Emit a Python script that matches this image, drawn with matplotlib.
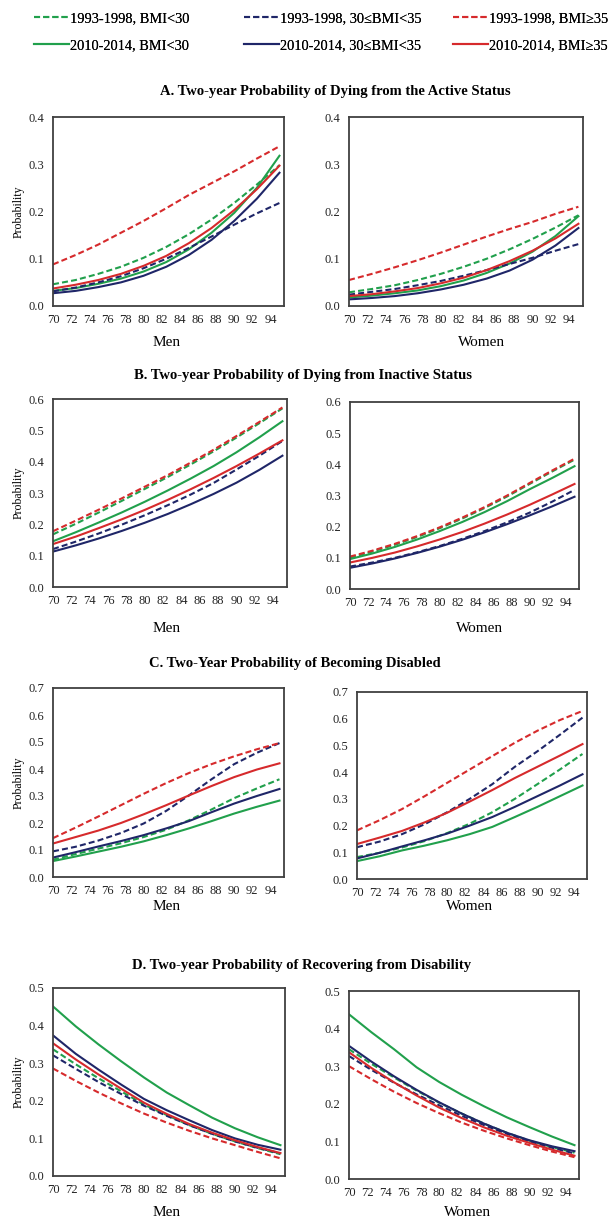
import matplotlib
matplotlib.use("Agg")
import matplotlib.pyplot as plt
from matplotlib.lines import Line2D

plt.rcParams['font.family'] = ['Liberation Serif', 'DejaVu Serif']

ages = [70, 72.5, 75, 77.5, 80, 82.5, 85, 87.5, 90, 92.5, 95]
xtick_labels = [70, 72, 74, 76, 78, 80, 82, 84, 86, 88, 90, 92, 94]

series_labels = ["1993-1998, BMI<30", "2010-2014, BMI<30",
                 "1993-1998, 30\u2264BMI<35", "2010-2014, 30\u2264BMI<35",
                 "1993-1998, BMI\u226535", "2010-2014, BMI\u226535"]

# Panel A: dying from active status
a_men_g93 = [0.046, 0.055, 0.068, 0.083, 0.102, 0.125, 0.152, 0.183, 0.218, 0.257, 0.298]
a_men_g10 = [0.032, 0.038, 0.047, 0.058, 0.073, 0.093, 0.120, 0.155, 0.197, 0.250, 0.318]
a_men_n93 = [0.031, 0.039, 0.050, 0.063, 0.080, 0.100, 0.123, 0.147, 0.172, 0.196, 0.218]
a_men_n10 = [0.027, 0.032, 0.040, 0.050, 0.064, 0.083, 0.108, 0.140, 0.180, 0.227, 0.282]
a_men_r93 = [0.088, 0.108, 0.130, 0.155, 0.180, 0.207, 0.235, 0.260, 0.285, 0.312, 0.338]
a_men_r10 = [0.037, 0.045, 0.055, 0.068, 0.085, 0.106, 0.133, 0.165, 0.203, 0.247, 0.297]
a_wom_g93 = [0.029, 0.036, 0.044, 0.055, 0.068, 0.083, 0.100, 0.120, 0.142, 0.166, 0.192]
a_wom_g10 = [0.018, 0.022, 0.027, 0.033, 0.042, 0.054, 0.070, 0.090, 0.115, 0.148, 0.190]
a_wom_n93 = [0.024, 0.030, 0.036, 0.044, 0.053, 0.064, 0.076, 0.089, 0.102, 0.117, 0.131]
a_wom_n10 = [0.014, 0.017, 0.021, 0.027, 0.035, 0.045, 0.058, 0.075, 0.098, 0.128, 0.165]
a_wom_r93 = [0.055, 0.068, 0.082, 0.097, 0.113, 0.130, 0.147, 0.163, 0.178, 0.195, 0.210]
a_wom_r10 = [0.021, 0.025, 0.031, 0.038, 0.048, 0.060, 0.076, 0.095, 0.117, 0.143, 0.174]

# Panel B: dying from inactive status
b_men_g93 = [0.168, 0.202, 0.238, 0.275, 0.313, 0.351, 0.391, 0.433, 0.477, 0.523, 0.570]
b_men_g10 = [0.146, 0.175, 0.206, 0.238, 0.272, 0.308, 0.346, 0.386, 0.430, 0.478, 0.529]
b_men_n93 = [0.121, 0.145, 0.171, 0.199, 0.229, 0.261, 0.295, 0.332, 0.375, 0.419, 0.466]
b_men_n10 = [0.113, 0.133, 0.155, 0.179, 0.205, 0.233, 0.264, 0.297, 0.333, 0.374, 0.419]
b_men_r93 = [0.178, 0.212, 0.247, 0.283, 0.320, 0.357, 0.397, 0.438, 0.482, 0.527, 0.573]
b_men_r10 = [0.137, 0.161, 0.188, 0.216, 0.246, 0.278, 0.312, 0.348, 0.386, 0.426, 0.468]
b_wom_g93 = [0.100, 0.120, 0.142, 0.167, 0.195, 0.226, 0.260, 0.297, 0.337, 0.377, 0.415]
b_wom_g10 = [0.096, 0.114, 0.135, 0.159, 0.186, 0.215, 0.247, 0.282, 0.320, 0.356, 0.394]
b_wom_n93 = [0.072, 0.085, 0.100, 0.118, 0.138, 0.161, 0.186, 0.214, 0.245, 0.280, 0.318]
b_wom_n10 = [0.068, 0.082, 0.098, 0.116, 0.136, 0.158, 0.182, 0.208, 0.236, 0.265, 0.296]
b_wom_r93 = [0.104, 0.123, 0.145, 0.170, 0.198, 0.229, 0.263, 0.300, 0.340, 0.380, 0.418]
b_wom_r10 = [0.085, 0.100, 0.117, 0.137, 0.159, 0.183, 0.210, 0.239, 0.270, 0.303, 0.337]

# Panel C: becoming disabled
c_men_g93 = [0.064, 0.085, 0.105, 0.125, 0.148, 0.175, 0.210, 0.250, 0.292, 0.328, 0.362]
c_men_g10 = [0.059, 0.076, 0.094, 0.112, 0.132, 0.155, 0.180, 0.207, 0.235, 0.260, 0.283]
c_men_n93 = [0.095, 0.112, 0.135, 0.163, 0.198, 0.245, 0.302, 0.362, 0.418, 0.460, 0.496]
c_men_n10 = [0.072, 0.092, 0.113, 0.133, 0.155, 0.180, 0.207, 0.240, 0.272, 0.300, 0.326]
c_men_r93 = [0.144, 0.183, 0.224, 0.266, 0.308, 0.348, 0.385, 0.418, 0.447, 0.473, 0.496]
c_men_r10 = [0.124, 0.148, 0.172, 0.200, 0.232, 0.266, 0.302, 0.337, 0.370, 0.398, 0.421]
c_wom_g93 = [0.082, 0.098, 0.118, 0.142, 0.172, 0.207, 0.250, 0.300, 0.355, 0.410, 0.468]
c_wom_g10 = [0.067, 0.085, 0.107, 0.125, 0.145, 0.168, 0.195, 0.232, 0.270, 0.310, 0.350]
c_wom_n93 = [0.119, 0.140, 0.168, 0.205, 0.250, 0.300, 0.355, 0.420, 0.478, 0.540, 0.604]
c_wom_n10 = [0.077, 0.098, 0.122, 0.145, 0.170, 0.200, 0.232, 0.270, 0.310, 0.350, 0.392]
c_wom_r93 = [0.182, 0.220, 0.262, 0.310, 0.360, 0.410, 0.460, 0.510, 0.555, 0.595, 0.629]
c_wom_r10 = [0.131, 0.155, 0.180, 0.212, 0.248, 0.290, 0.333, 0.378, 0.420, 0.462, 0.505]

# Panel D: recovering from disability
d_men_g93 = [0.337, 0.297, 0.260, 0.225, 0.190, 0.162, 0.135, 0.112, 0.092, 0.074, 0.058]
d_men_g10 = [0.451, 0.398, 0.350, 0.305, 0.262, 0.222, 0.188, 0.155, 0.127, 0.103, 0.082]
d_men_n93 = [0.321, 0.285, 0.250, 0.218, 0.187, 0.160, 0.135, 0.112, 0.092, 0.075, 0.060]
d_men_n10 = [0.374, 0.325, 0.283, 0.243, 0.205, 0.175, 0.148, 0.122, 0.100, 0.083, 0.070]
d_men_r93 = [0.286, 0.253, 0.222, 0.193, 0.166, 0.142, 0.120, 0.100, 0.082, 0.064, 0.047]
d_men_r10 = [0.353, 0.310, 0.270, 0.232, 0.195, 0.165, 0.138, 0.115, 0.095, 0.077, 0.061]
d_wom_g93 = [0.345, 0.306, 0.270, 0.235, 0.203, 0.174, 0.147, 0.123, 0.102, 0.085, 0.070]
d_wom_g10 = [0.438, 0.390, 0.345, 0.297, 0.258, 0.224, 0.193, 0.164, 0.138, 0.113, 0.090]
d_wom_n93 = [0.327, 0.290, 0.256, 0.225, 0.196, 0.168, 0.143, 0.120, 0.100, 0.083, 0.068]
d_wom_n10 = [0.354, 0.312, 0.273, 0.237, 0.204, 0.174, 0.147, 0.123, 0.103, 0.087, 0.074]
d_wom_r93 = [0.300, 0.265, 0.232, 0.202, 0.175, 0.150, 0.128, 0.108, 0.090, 0.073, 0.058]
d_wom_r10 = [0.337, 0.295, 0.257, 0.222, 0.190, 0.162, 0.137, 0.115, 0.096, 0.078, 0.062]

titles = ["A. Two-year Probability of Dying from the Active Status",
          "B. Two-year Probability of Dying from Inactive Status",
          "C. Two-Year Probability of Becoming Disabled",
          "D. Two-year Probability of Recovering from Disability"]
ymaxes = [0.4, 0.6, 0.7, 0.5]

GREEN = "#21A04C"
NAVY = "#1F2668"
RED = "#D62A2C"
colors = [GREEN, GREEN, NAVY, NAVY, RED, RED]
styles = ["--", "-", "--", "-", "--", "-"]

panels = [
    ([a_men_g93, a_men_g10, a_men_n93, a_men_n10, a_men_r93, a_men_r10],
     [a_wom_g93, a_wom_g10, a_wom_n93, a_wom_n10, a_wom_r93, a_wom_r10]),
    ([b_men_g93, b_men_g10, b_men_n93, b_men_n10, b_men_r93, b_men_r10],
     [b_wom_g93, b_wom_g10, b_wom_n93, b_wom_n10, b_wom_r93, b_wom_r10]),
    ([c_men_g93, c_men_g10, c_men_n93, c_men_n10, c_men_r93, c_men_r10],
     [c_wom_g93, c_wom_g10, c_wom_n93, c_wom_n10, c_wom_r93, c_wom_r10]),
    ([d_men_g93, d_men_g10, d_men_n93, d_men_n10, d_men_r93, d_men_r10],
     [d_wom_g93, d_wom_g10, d_wom_n93, d_wom_n10, d_wom_r93, d_wom_r10]),
]

W, H = 609, 1219
fig = plt.figure(figsize=(W / 100, H / 100), dpi=100)

# axes pixel boxes: (x0, x1, ytop, ybottom)
boxes = [
    ((53, 284, 117, 306), (349, 583, 117, 306)),
    ((53, 287, 399, 587), (350, 579, 402, 589)),
    ((53, 284, 688, 877), (357, 587, 692, 879)),
    ((53, 285, 988, 1176), (349, 579, 991, 1179)),
]
title_pos = [(335, 92), (303, 376), (295, 664), (302, 965)]
xlab_pos = [((167, 343), (482, 343)), ((167, 628), (480, 628)),
            ((167, 907), (470, 907)), ((167, 1212), (468, 1212))]


def px_axes(x0, x1, yt, yb):
    return fig.add_axes([x0 / W, 1 - yb / H, (x1 - x0) / W, (yb - yt) / H])


DASH = (0, (2.9, 1.5))
for p, (men, wom) in enumerate(panels):
    for side, data in enumerate((men, wom)):
        ax = px_axes(*boxes[p][side])
        for vals, c, ls in zip(data, colors, styles):
            ax.plot(ages, vals, color=c, lw=1.5,
                    linestyle=DASH if ls == "--" else "-")
        ax.set_xlim(70, 95.5)
        ax.set_ylim(0, ymaxes[p])
        ax.set_xticks(xtick_labels)
        ax.set_xticklabels([str(v) for v in xtick_labels])
        yt = [round(0.1 * i, 1) for i in range(int(round(ymaxes[p] * 10)) + 1)]
        ax.set_yticks(yt)
        ax.set_yticklabels([f"{v:.1f}" for v in yt])
        ax.tick_params(length=0, labelsize=9, pad=6, colors="#222222")
        for s in ax.spines.values():
            s.set_color("#404040")
            s.set_linewidth(1.3)
        if side == 0:
            ax.set_ylabel("Probability", fontsize=8.5, labelpad=3)
        lx, ly = xlab_pos[p][side]
        fig.text(lx / W, 1 - ly / H, "Men" if side == 0 else "Women",
                 ha="center", va="center", fontsize=11)
    tx, ty = title_pos[p]
    fig.text(tx / W, 1 - ty / H, titles[p], ha="center", va="center",
             fontsize=10.5, fontweight="bold")

handles = [Line2D([], [], color=c, lw=1.5,
                  linestyle=DASH if ls == "--" else "-")
           for c, ls in zip(colors, styles)]
legend_x = [34, 244, 453]
for k in range(3):
    leg = fig.legend(handles[2 * k:2 * k + 2], series_labels[2 * k:2 * k + 2],
                     ncol=1, loc="upper left",
                     bbox_to_anchor=(legend_x[k] / W, 1 - 12 / H), frameon=False,
                     fontsize=10.4, handlelength=2.4, handletextpad=0.1,
                     labelspacing=0.98, borderpad=0, borderaxespad=0)
    fig.add_artist(leg)

fig.savefig("out.png", dpi=100)
